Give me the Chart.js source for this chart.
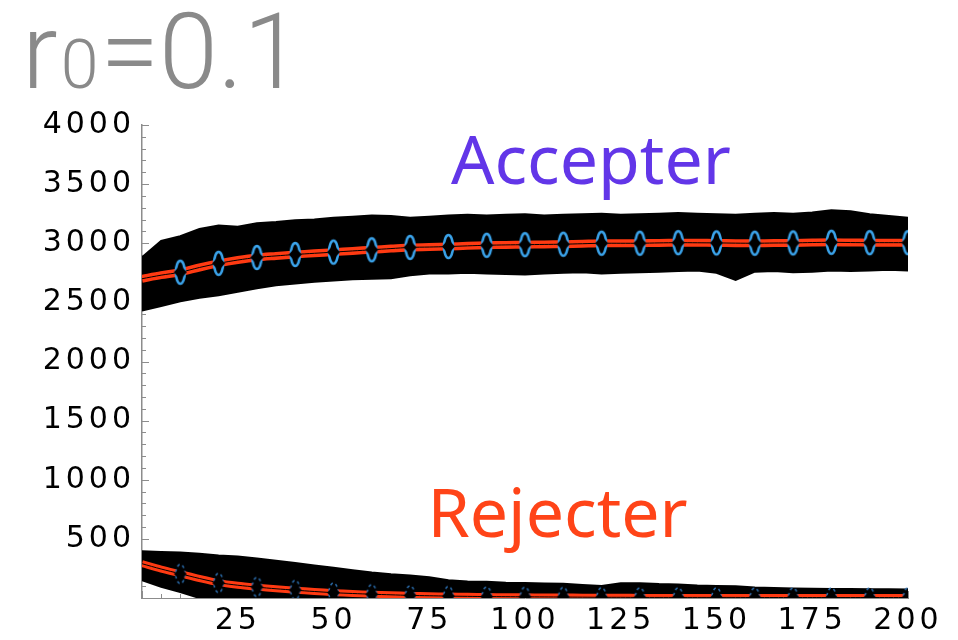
<!DOCTYPE html>
<html>
<head>
<meta charset="utf-8">
<script src="https://cdn.jsdelivr.net/npm/chart.js@4"></script>
<style>
  html, body { margin: 0; padding: 0; background: #fff; }
  #chart { display: block; }
</style>
</head>
<body>
<canvas id="chart" width="958" height="640"></canvas>
<script>
// ---- data -------------------------------------------------------------
const BAND_X = [0, 5, 10, 15, 20, 25, 30, 35, 40, 45, 50, 55, 60, 65, 70, 75, 80, 85, 90, 95, 100,
  105, 110, 115, 120, 125, 130, 135, 140, 145, 150, 155, 160, 165, 170, 175, 180, 185, 190, 195, 200];

// spread of the individual runs (black cloud)
const ACC_TOP = [2880, 3020, 3060, 3120, 3150, 3140, 3170, 3180, 3195, 3200, 3215, 3225, 3235, 3230, 3215,
  3225, 3235, 3240, 3235, 3240, 3245, 3235, 3240, 3245, 3250, 3240, 3245, 3250, 3255, 3250, 3245, 3240,
  3250, 3255, 3250, 3260, 3280, 3270, 3245, 3230, 3215];
const ACC_BOTTOM = [2430, 2470, 2510, 2540, 2560, 2590, 2620, 2645, 2660, 2675, 2685, 2695, 2700, 2705, 2730,
  2745, 2745, 2750, 2745, 2740, 2735, 2745, 2750, 2755, 2745, 2750, 2755, 2760, 2765, 2770, 2750, 2690,
  2760, 2765, 2755, 2760, 2770, 2765, 2770, 2775, 2770];
const REJ_TOP = [395, 390, 385, 375, 360, 350, 335, 315, 295, 275, 255, 235, 215, 200, 190, 175, 150, 140,
  138, 130, 127, 122, 120, 110, 102, 125, 125, 118, 115, 105, 102, 100, 88, 85, 80, 78, 76, 76, 75, 74, 72];
const REJ_BOTTOM = [150, 95, 50, 0, 0, 0, 0, 0, 0, 0, 0, 0, 0, 0, 0, 0, 0, 0, 0, 0, 0,
  0, 0, 0, 0, 0, 0, 0, 0, 0, 0, 0, 0, 0, 0, 0, 0, 0, 0, 0, 0];

// mean trajectories (red lines)
const ACC_MEAN = [2700, 2730, 2755, 2795, 2830, 2858, 2880, 2893, 2905, 2915, 2925, 2935, 2945, 2955, 2965,
  2968, 2972, 2978, 2983, 2986, 2988, 2990, 2992, 2996, 3000, 3000, 3000, 3003, 3005, 3004, 3003, 3001,
  3000, 3002, 3003, 3006, 3008, 3006, 3005, 3005, 3005];
const REJ_MEAN = [290, 245, 205, 165, 130, 108, 92, 78, 66, 55, 45, 38, 32, 27, 22, 19, 16, 14, 12, 11, 10,
  9, 8, 7, 6, 6, 5, 5, 5, 5, 5, 5, 4, 4, 4, 4, 4, 4, 4, 4, 4];

// sampled means with error markers (blue ellipses)
const SAMPLE_X = [10, 20, 30, 40, 50, 60, 70, 80, 90, 100, 110, 120, 130, 140, 150, 160, 170, 180, 190, 200];
const ACC_SAMPLE = [2755, 2830, 2880, 2905, 2925, 2945, 2965, 2972, 2983, 2988, 2992, 3000, 3000, 3005,
  3003, 3000, 3003, 3008, 3005, 3005];
const REJ_SAMPLE = [203, 127, 93, 68, 45, 32, 22, 16, 12, 10, 8, 6, 5, 5, 5, 4, 4, 4, 4, 4];

const X_TICKS = [25, 50, 75, 100, 125, 150, 175, 200];
const Y_TICKS = [500, 1000, 1500, 2000, 2500, 3000, 3500, 4000];

const TITLE_MAIN = 'r';
const TITLE_SUB = '0';
const TITLE_REST = '=0.1';
const LABEL_ACC = 'Accepter';
const LABEL_REJ = 'Rejecter';

// ---- styling ----------------------------------------------------------
const COLOR_CLOUD = '#000000';
const COLOR_MEAN = '#ff3a12';
const COLOR_ACC_MARK = '#3ba3ea';
const COLOR_REJ_MARK = '#2a6aa8';
const COLOR_AXIS = '#8c8c8c';
const COLOR_TITLE = '#8a8a8a';
const COLOR_ACC_TEXT = '#6236e8';
const COLOR_REJ_TEXT = '#ff4418';
const TICK_FONT = { family: "'DejaVu Sans', sans-serif", size: 30 };
const TITLE_FONT = "300 106px Roboto, 'Noto Sans', sans-serif";
const TITLE_SUB_FONT = "300 68px Roboto, 'Noto Sans', sans-serif";

const pts = (xs, ys) => xs.map((x, i) => ({ x, y: ys[i] }));

function ellipseMarker(rx, ry, color, dashed) {
  const c = document.createElement('canvas');
  c.width = Math.ceil(rx * 2 + 6);
  c.height = Math.ceil(ry * 2 + 6);
  const g = c.getContext('2d');
  const cx = c.width / 2, cy = c.height / 2;
  g.fillStyle = '#000';
  g.beginPath();
  g.ellipse(cx, cy, rx, ry, 0, 0, Math.PI * 2);
  g.fill();
  g.strokeStyle = color;
  g.lineWidth = dashed ? 1.6 : 2.6;
  if (dashed) g.setLineDash([3, 3]);
  g.beginPath();
  g.ellipse(cx, cy, rx, ry, 0, 0, Math.PI * 2);
  g.stroke();
  g.setLineDash([]);
  // black diamond sitting over the middle of the ellipse
  g.fillStyle = '#000';
  g.beginPath();
  g.moveTo(cx, cy - ry * 0.62);
  g.lineTo(cx + rx + 2, cy);
  g.lineTo(cx, cy + ry * 0.62);
  g.lineTo(cx - rx - 2, cy);
  g.closePath();
  g.fill();
  return c;
}

const accMarker = ellipseMarker(4.5, 11.5, COLOR_ACC_MARK, false);
const rejMarker = ellipseMarker(4.5, 9.5, COLOR_REJ_MARK, true);

const cloud = (data, fill, order) => ({
  data, fill, order,
  borderColor: COLOR_CLOUD, backgroundColor: COLOR_CLOUD,
  borderWidth: 2, pointRadius: 0, tension: 0
});
const meanLine = (data, color, width, order) => ({
  data, order, fill: false,
  borderColor: color, borderWidth: width, pointRadius: 0, tension: 0.3
});
const markers = (data, img, order) => ({
  data, order, showLine: false,
  pointStyle: img, pointRadius: 6, borderWidth: 0
});

// inward-pointing minor/major tick marks like the original frame
const frameTicks = {
  id: 'frameTicks',
  beforeDatasetsDraw(chart) {
    const { ctx, scales: { x, y }, chartArea } = chart;
    ctx.save();
    ctx.strokeStyle = COLOR_AXIS;
    ctx.lineWidth = 1;
    ctx.beginPath();
    for (let v = 0; v <= 4000; v += 100) {
      const py = Math.round(y.getPixelForValue(v)) + 0.5;
      const len = v % 500 === 0 ? 7 : 4;
      ctx.moveTo(chartArea.left, py);
      ctx.lineTo(chartArea.left + len, py);
    }
    for (let v = 0; v <= 200; v += 5) {
      const px = Math.round(x.getPixelForValue(v)) + 0.5;
      const len = v % 25 === 0 ? 7 : 4;
      ctx.moveTo(px, chartArea.bottom);
      ctx.lineTo(px, chartArea.bottom - len);
    }
    ctx.stroke();
    ctx.restore();
  }
};

// letter spacing for tick labels, then title and series labels on top
const textLayer = {
  id: 'textLayer',
  beforeDraw(chart) {
    chart.ctx.letterSpacing = '4px';
  },
  afterDraw(chart) {
    const { ctx, scales: { x, y } } = chart;
    ctx.save();
    ctx.letterSpacing = '0px';
    ctx.textBaseline = 'alphabetic';

    ctx.fillStyle = COLOR_TITLE;
    ctx.textAlign = 'left';
    ctx.font = TITLE_FONT;
    let tx = 22;
    ctx.fillText(TITLE_MAIN, tx, 88);
    tx += ctx.measureText(TITLE_MAIN).width + 3;
    ctx.font = TITLE_SUB_FONT;
    ctx.fillText(TITLE_SUB, tx, 88);
    tx += ctx.measureText(TITLE_SUB).width + 2;
    ctx.font = TITLE_FONT;
    ctx.fillText(TITLE_REST, tx, 88);

    ctx.textAlign = 'center';
    ctx.font = "68px 'Noto Sans', sans-serif";
    ctx.fillStyle = COLOR_ACC_TEXT;
    ctx.fillText(LABEL_ACC, x.getPixelForValue(117.2), y.getPixelForValue(3500));
    ctx.fillStyle = COLOR_REJ_TEXT;
    ctx.fillText(LABEL_REJ, x.getPixelForValue(108.5), y.getPixelForValue(520));
    ctx.restore();
  }
};

new Chart(document.getElementById('chart'), {
  type: 'line',
  data: {
    datasets: [
      cloud(pts(BAND_X, ACC_TOP), '+1', 10),
      cloud(pts(BAND_X, ACC_BOTTOM), false, 10),
      cloud(pts(BAND_X, REJ_TOP), '+1', 10),
      cloud(pts(BAND_X, REJ_BOTTOM), false, 10),
      meanLine(pts(BAND_X, ACC_MEAN), COLOR_MEAN, 8, 5),
      meanLine(pts(BAND_X, ACC_MEAN), '#000', 1, 4),
      meanLine(pts(BAND_X, REJ_MEAN), COLOR_MEAN, 7, 5),
      meanLine(pts(BAND_X, REJ_MEAN), '#000', 1, 4),
      markers(pts(SAMPLE_X, ACC_SAMPLE), accMarker, 1),
      markers(pts(SAMPLE_X, REJ_SAMPLE), rejMarker, 1)
    ]
  },
  options: {
    responsive: false,
    animation: false,
    devicePixelRatio: 1,
    layout: { padding: { top: 125, right: 50, left: 0, bottom: 0 } },
    plugins: { legend: { display: false }, tooltip: { enabled: false } },
    scales: {
      x: {
        type: 'linear', min: 0, max: 200,
        afterFit: (s) => { s.height = 42; },
        afterBuildTicks: (s) => { s.ticks = X_TICKS.map((v) => ({ value: v })); },
        grid: { display: false, drawTicks: false },
        border: { display: true, color: COLOR_AXIS, width: 1 },
        ticks: {
          color: '#000', font: TICK_FONT, padding: 5, maxRotation: 0, autoSkip: false,
          callback: (v) => String(v)
        }
      },
      y: {
        type: 'linear', min: 0, max: 4000,
        afterFit: (s) => { s.width = 142; },
        afterBuildTicks: (s) => { s.ticks = Y_TICKS.map((v) => ({ value: v })); },
        grid: { display: false, drawTicks: false },
        border: { display: true, color: COLOR_AXIS, width: 1.5 },
        ticks: {
          color: '#000', font: TICK_FONT, padding: 7, autoSkip: false,
          callback: (v) => String(v)
        }
      }
    }
  },
  plugins: [frameTicks, textLayer]
});
</script>
</body>
</html>
